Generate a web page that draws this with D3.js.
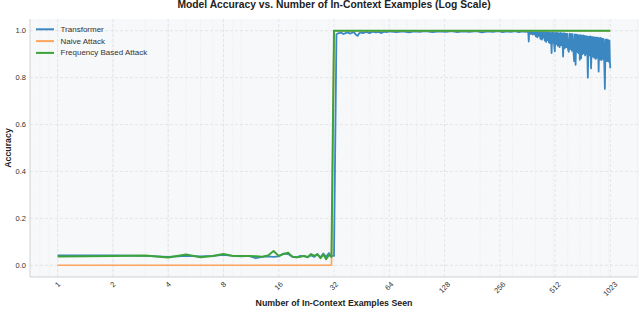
<!DOCTYPE html>
<html>
<head>
<meta charset="utf-8">
<script src="https://cdn.jsdelivr.net/npm/d3@7"></script>
<style>
  body { margin: 0; background: #fff; }
  svg { display: block; }
  text { font-family: "Liberation Sans", Arial, sans-serif; }
</style>
</head>
<body>
<div id="chart"></div>
<script>

// Chart data

const xTicks = [1, 2, 4, 8, 16, 32, 64, 128, 256, 512, 1023];
const yTicks = [0.0, 0.2, 0.4, 0.6, 0.8, 1.0];

const seriesNames = ["Transformer", "Naive Attack", "Frequency Based Attack"];
const seriesColors = ["#3a87c2", "#fca35c", "#3ca33a"];

// Examples seen before the jump (shared by transformer and frequency attack)
const earlyX = [1, 2, 3, 4, 5, 6, 7, 8, 9, 10, 11, 12, 13, 14, 15, 16,
                17, 18, 19, 20, 21, 22, 23, 24, 25, 26, 27, 28, 29, 30, 31];

const transformerEarly = [0.042, 0.042, 0.040, 0.036, 0.040, 0.038, 0.040, 0.044, 0.040, 0.038,
                          0.040, 0.030, 0.036, 0.038, 0.036, 0.038, 0.050, 0.048, 0.036, 0.034,
                          0.040, 0.038, 0.036, 0.042, 0.036, 0.048, 0.034, 0.050, 0.036, 0.052, 0.040];

const frequencyEarly = [0.037, 0.040, 0.042, 0.033, 0.046, 0.034, 0.040, 0.048, 0.040, 0.040,
                        0.040, 0.038, 0.036, 0.042, 0.061, 0.040, 0.048, 0.054, 0.036, 0.034,
                        0.036, 0.040, 0.034, 0.048, 0.040, 0.046, 0.030, 0.046, 0.026, 0.044, 0.036];

// Transformer after the jump
const transformerLateX = [32, 33, 34, 35, 36, 37, 38, 39, 40, 41, 42, 43, 44, 45, 46, 48, 50, 52, 54, 56, 58, 60, 62, 64,
  70, 76, 82, 88, 94, 100, 110, 120, 130, 140, 150, 160, 175, 190, 205, 220, 235, 250, 265, 280, 295, 310, 325, 340,
  352, 362, 366, 368, 370,
  374, 378, 382, 386, 390, 394, 398, 402, 406, 410, 414, 418, 422, 426, 430, 434, 438, 442, 446, 450,
  454, 458, 462, 466, 470, 474, 478, 482, 486, 490, 494, 498, 502, 506, 510, 514, 518,
  524, 530, 536, 542, 548, 554, 560, 566, 572, 578, 584, 590, 596, 602, 608, 614, 620, 626, 632, 638,
  644, 650, 656, 662, 668, 674, 680, 686, 692, 698, 704, 710, 716, 722, 728, 734, 740, 746, 752, 758,
  764, 772, 780, 788, 796, 804, 812, 820, 828, 836, 844, 852, 860, 868, 876, 884, 892, 900, 908, 916,
  924, 932, 940, 948, 956, 964, 972, 980, 988, 996, 1004, 1012, 1018, 1023];

const transformerLate = [0.040, 0.985, 0.990, 0.992, 0.986, 0.990, 0.993, 0.988, 0.991, 0.995, 0.984, 0.978, 0.990, 0.993, 0.990,
  0.995, 0.990, 0.996, 0.993, 0.995, 0.990, 0.996, 0.994, 0.997,
  0.994, 0.997, 0.993, 0.997, 0.995, 0.998, 0.994, 0.997, 0.995, 0.998, 0.994, 0.997, 0.995, 0.998, 0.993, 0.997,
  0.995, 0.998, 0.994, 0.997, 0.995, 0.998, 0.994, 0.997,
  0.995, 0.997, 0.990, 0.954, 0.996,
  0.996, 0.986, 0.995, 0.984, 0.996, 0.985, 0.994, 0.976, 0.995, 0.972, 0.994, 0.978, 0.995, 0.965, 0.993, 0.962,
  0.995, 0.970, 0.994, 0.958,
  0.993, 0.952, 0.995, 0.960, 0.992, 0.950, 0.994, 0.946, 0.990, 0.905, 0.993, 0.948, 0.992, 0.940, 0.912, 0.991, 0.942,
  0.992, 0.935, 0.990, 0.930, 0.991, 0.938, 0.989, 0.890, 0.990, 0.925, 0.988, 0.930, 0.987, 0.920, 0.910, 0.988,
  0.922, 0.986, 0.915, 0.985,
  0.918, 0.870, 0.984, 0.855, 0.983, 0.910, 0.982, 0.905, 0.980, 0.876, 0.981, 0.883, 0.979, 0.900, 0.980, 0.905,
  0.978, 0.895, 0.977, 0.900,
  0.976, 0.800, 0.975, 0.895, 0.976, 0.840, 0.974, 0.890, 0.973, 0.885, 0.972, 0.880, 0.970, 0.885, 0.971, 0.826,
  0.968, 0.878, 0.969, 0.875,
  0.966, 0.880, 0.965, 0.870, 0.752, 0.962, 0.872, 0.963, 0.870, 0.960, 0.868, 0.958, 0.870, 0.840];

// Naive attack: nothing until 32 examples, then perfect
const naiveX = [1, 31, 32, 1023];
const naiveAcc = [0.0, 0.0, 1.0, 1.0];

// Frequency based attack after the jump
const frequencyLateX = [32, 1023];
const frequencyLate = [1.0, 1.0];

// Layout
const width = 640, height = 326;
const margin = {left: 30, right: 2, top: 19, bottom: 49};

const svg = d3.select("#chart").append("svg")
  .attr("width", width)
  .attr("height", height);

const x = d3.scaleLog().base(2)
  .domain([Math.pow(2, -0.5), Math.pow(2, 10.5)])
  .range([margin.left, width - margin.right]);

const y = d3.scaleLinear()
  .domain([-0.05, 1.05])
  .range([height - margin.bottom, margin.top]);

// Plot background
svg.append("rect")
  .attr("x", x.range()[0]).attr("y", y.range()[1])
  .attr("width", x.range()[1] - x.range()[0])
  .attr("height", y.range()[0] - y.range()[1])
  .attr("fill", "#f7f8fa");

// Minor grid (log10 sub ticks) and major grid
const minorTicks = [];
for (const decade of [0.1, 1, 10, 100]) {
  for (let k = 2; k <= 9; k++) {
    const v = decade * k;
    if (v >= x.domain()[0] && v <= x.domain()[1]) minorTicks.push(v);
  }
}
minorTicks.push(1, 10, 100, 1000);

svg.append("g").selectAll("line")
  .data(minorTicks)
  .enter().append("line")
  .attr("x1", d => x(d)).attr("x2", d => x(d))
  .attr("y1", y.range()[0]).attr("y2", y.range()[1])
  .attr("stroke", "#e7e8ea")
  .attr("stroke-width", 0.6)
  .attr("stroke-dasharray", "1.5,1.5");

svg.append("g").selectAll("line")
  .data(xTicks)
  .enter().append("line")
  .attr("x1", d => x(d)).attr("x2", d => x(d))
  .attr("y1", y.range()[0]).attr("y2", y.range()[1])
  .attr("stroke", "#e0e1e4")
  .attr("stroke-width", 0.8)
  .attr("stroke-dasharray", "3,2");

svg.append("g").selectAll("line")
  .data(yTicks)
  .enter().append("line")
  .attr("x1", x.range()[0]).attr("x2", x.range()[1])
  .attr("y1", d => y(d)).attr("y2", d => y(d))
  .attr("stroke", "#e0e1e4")
  .attr("stroke-width", 0.8)
  .attr("stroke-dasharray", "3,2");

// Spines
svg.append("line")
  .attr("x1", x.range()[0]).attr("x2", x.range()[0])
  .attr("y1", y.range()[0]).attr("y2", y.range()[1])
  .attr("stroke", "#cfd1d4").attr("stroke-width", 1);
svg.append("line")
  .attr("x1", x.range()[0]).attr("x2", x.range()[1])
  .attr("y1", y.range()[0]).attr("y2", y.range()[0])
  .attr("stroke", "#cfd1d4").attr("stroke-width", 1);
svg.append("line")
  .attr("x1", x.range()[1]).attr("x2", x.range()[1])
  .attr("y1", y.range()[0]).attr("y2", y.range()[1])
  .attr("stroke", "#eceef0").attr("stroke-width", 1);

// Y tick labels
svg.append("g").selectAll("text")
  .data(yTicks)
  .enter().append("text")
  .attr("x", x.range()[0] - 4)
  .attr("y", d => y(d))
  .attr("text-anchor", "end")
  .attr("dominant-baseline", "central")
  .attr("font-size", 7.5)
  .attr("fill", "#333")
  .text(d => d.toFixed(1));

// X tick labels, rotated 45 degrees and centred under the tick
const xLabels = svg.append("g").selectAll("text")
  .data(xTicks)
  .enter().append("text")
  .attr("text-anchor", "middle")
  .attr("dominant-baseline", "central")
  .attr("font-size", 7.5)
  .attr("fill", "#333")
  .text(d => d);

xLabels.attr("transform", function(d) {
  const w = this.getComputedTextLength();
  const h = (w + 6) / Math.SQRT2;
  return "translate(" + x(d) + "," + (y.range()[0] + 4 + h / 2) + ") rotate(-45)";
});

// Lines
const line = d3.line()
  .x(d => x(d[0]))
  .y(d => y(d[1]));

function pairs(xs, ys) {
  return xs.map((v, i) => [v, ys[i]]);
}

const transformerData = pairs(earlyX, transformerEarly).concat(pairs(transformerLateX, transformerLate));
const naiveData = pairs(naiveX, naiveAcc);
const frequencyData = pairs(earlyX, frequencyEarly).concat(pairs(frequencyLateX, frequencyLate));

const allSeries = [
  {data: transformerData, color: seriesColors[0], width: 1.8},
  {data: naiveData, color: seriesColors[1], width: 1.6},
  {data: frequencyData, color: seriesColors[2], width: 2}
];

svg.append("g").selectAll("path")
  .data(allSeries)
  .enter().append("path")
  .attr("d", d => line(d.data))
  .attr("fill", "none")
  .attr("stroke", d => d.color)
  .attr("stroke-width", d => d.width)
  .attr("stroke-linejoin", "round");

// Legend
const legend = svg.append("g").selectAll("g")
  .data(seriesNames)
  .enter().append("g")
  .attr("transform", (d, i) => "translate(36," + (29.3 + i * 11.8) + ")");

legend.append("line")
  .attr("x1", 0).attr("x2", 18)
  .attr("stroke", (d, i) => seriesColors[i])
  .attr("stroke-width", 2);

legend.append("text")
  .attr("x", 24.5)
  .attr("dominant-baseline", "central")
  .attr("font-size", 8)
  .attr("fill", "#333")
  .text(d => d);

// Titles
svg.append("text")
  .attr("x", (x.range()[0] + x.range()[1]) / 2)
  .attr("y", 7.5)
  .attr("text-anchor", "middle")
  .attr("font-size", 10.3)
  .attr("font-weight", "bold")
  .attr("fill", "#222")
  .text("Model Accuracy vs. Number of In-Context Examples (Log Scale)");

svg.append("text")
  .attr("x", (x.range()[0] + x.range()[1]) / 2)
  .attr("y", 303)
  .attr("text-anchor", "middle")
  .attr("dominant-baseline", "central")
  .attr("font-size", 8.8)
  .attr("font-weight", "bold")
  .attr("fill", "#222")
  .text("Number of In-Context Examples Seen");

svg.append("text")
  .attr("transform", "translate(8," + ((y.range()[0] + y.range()[1]) / 2) + ") rotate(-90)")
  .attr("text-anchor", "middle")
  .attr("dominant-baseline", "central")
  .attr("font-size", 8.8)
  .attr("font-weight", "bold")
  .attr("fill", "#222")
  .text("Accuracy");

</script>
</body>
</html>
